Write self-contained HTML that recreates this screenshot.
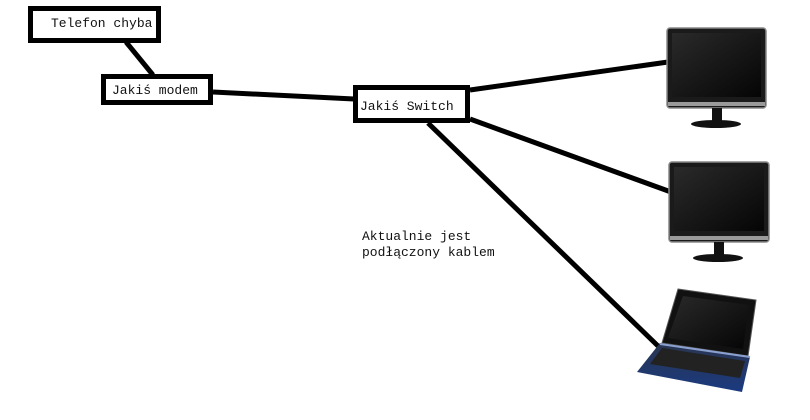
<!DOCTYPE html>
<html><head><meta charset="utf-8"><style>
body{margin:0;width:810px;height:420px;background:#fff;overflow:hidden}
svg{display:block}
text{font-family:"Liberation Mono",monospace;font-size:13px;fill:#111}
</style></head><body>
<svg width="810" height="420" viewBox="0 0 810 420">
<defs>
<linearGradient id="scr" x1="0" y1="0" x2="1" y2="1"><stop offset="0" stop-color="#2a2a2a"/><stop offset="1" stop-color="#050505"/></linearGradient>
<linearGradient id="kb" x1="0" y1="0" x2="0" y2="1"><stop offset="0" stop-color="#2a3550"/><stop offset="1" stop-color="#1a3a80"/></linearGradient>
</defs>
<g stroke="#000" stroke-width="5" stroke-linecap="butt" fill="none">
<line x1="126" y1="42" x2="153" y2="75"/>
<line x1="213" y1="92" x2="354" y2="99"/>
<line x1="470" y1="90" x2="668" y2="62"/>
<line x1="470" y1="119" x2="671" y2="192"/>
<line x1="428" y1="123" x2="658" y2="346"/>
</g>
<rect x="30.5" y="8.5" width="128" height="32" fill="#fff" stroke="#000" stroke-width="5"/>
<text x="51" y="27">Telefon chyba</text>
<rect x="103.5" y="76.5" width="107" height="26" fill="#fff" stroke="#000" stroke-width="5"/>
<text x="112" y="94">Jakiś modem</text>
<rect x="355.5" y="87.5" width="112" height="33" fill="#fff" stroke="#000" stroke-width="5"/>
<text x="360" y="110">Jakiś Switch</text>
<text x="362" y="240">Aktualnie jest</text>
<text x="362" y="256">podłączony kablem</text>
<g>
<rect x="667" y="28" width="99" height="80" rx="3" fill="#1a1a1a" stroke="#888" stroke-width="1.5"/>
<rect x="672" y="33" width="89" height="64" fill="url(#scr)"/>
<rect x="668" y="102" width="97" height="4" fill="#9a9a9a"/>
<rect x="712" y="108" width="10" height="14" fill="#111"/>
<ellipse cx="716" cy="124" rx="25" ry="4" fill="#111"/>
</g>
<g>
<rect x="669" y="162" width="100" height="80" rx="3" fill="#1a1a1a" stroke="#888" stroke-width="1.5"/>
<rect x="674" y="167" width="90" height="64" fill="url(#scr)"/>
<rect x="670" y="236" width="98" height="4" fill="#9a9a9a"/>
<rect x="714" y="242" width="10" height="14" fill="#111"/>
<ellipse cx="718" cy="258" rx="25" ry="4" fill="#111"/>
</g>
<g>
<polygon points="678,289 756,300 748,356 662,343" fill="#111" stroke="#555"/>
<polygon points="683,296 749,305 743,349 668,338" fill="url(#scr)"/>
<polygon points="660,343 750,357 742,392 637,372" fill="url(#kb)"/>
<polygon points="662,348 745,361 740,378 650,364" fill="#222"/>
<line x1="660" y1="344" x2="750" y2="357" stroke="#8aa0d0" stroke-width="2"/>
</g>
</svg>
</body></html>
